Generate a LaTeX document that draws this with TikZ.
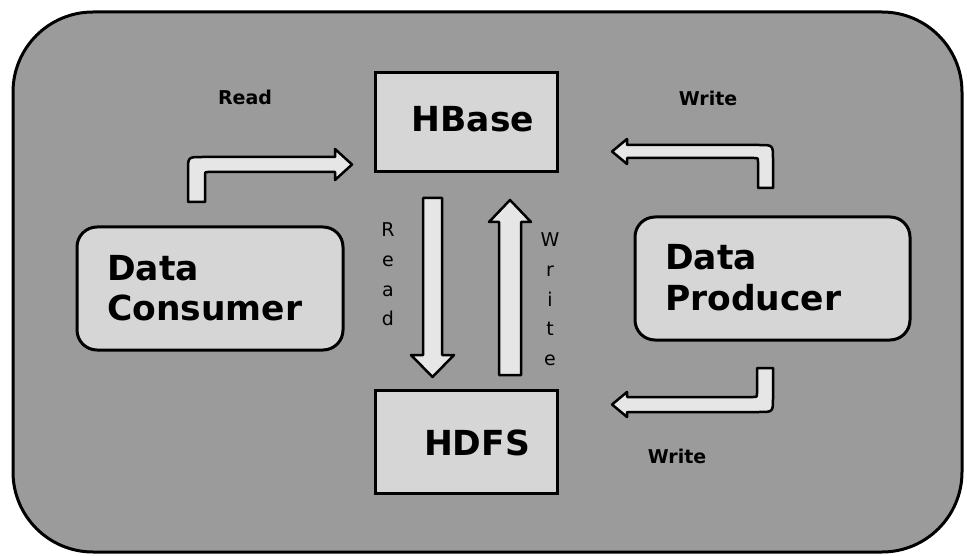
\documentclass[tikz,border=0pt]{standalone}
\usepackage{fontspec}
\setmainfont{DejaVu Sans}
\definecolor{bgray}{RGB}{155,155,155}
\definecolor{boxgray}{RGB}{214,214,214}
\definecolor{arrgray}{RGB}{230,230,230}
\begin{document}
\begin{tikzpicture}[x=1pt,y=-1pt,
  outer/.style={draw=black,line width=3pt,fill=bgray,rounded corners=80pt},
  sqbox/.style={draw=black,line width=3pt,fill=boxgray,inner sep=0pt},
  rbox/.style={draw=black,line width=3pt,fill=boxgray,rounded corners=20pt,inner sep=0pt},
  blk/.style={draw=black,line width=2.5pt,fill=arrgray,line join=round},
  big/.style={font=\bfseries\fontsize{34.5}{40}\selectfont,inner sep=0pt},
  small/.style={font=\bfseries\fontsize{19}{22}\selectfont,inner sep=0pt},
  vlet/.style={font=\fontsize{19}{22}\selectfont,inner sep=0pt,anchor=base}]
\useasboundingbox (0,0) rectangle (967,556);
\fill[white] (0,0) rectangle (967,556);
\draw[outer] (13,12) rectangle (962,552);
% boxes
\node[sqbox,minimum width=182pt,minimum height=99pt] (hbase) at (466,122.5) {};
\node[sqbox,minimum width=182pt,minimum height=103pt] (hdfs) at (466,441.5) {};
\node[rbox,minimum width=266pt,minimum height=123pt] (cons) at (210,288.5) {};
\node[rbox,minimum width=275pt,minimum height=123pt] (prod) at (772.5,278.5) {};
% texts
\node[big,anchor=base] (thbase) at (473,132) {HBase};
\node[big,anchor=base] (thdfs) at (477,455) {HDFS};
\node[big,anchor=base west] (tcons1) at (107,280) {Data};
\node[big,anchor=base west] (tcons2) at (107,320) {Consumer};
\node[big,anchor=base west] (tprod1) at (665,270) {Data};
\node[big,anchor=base west] (tprod2) at (665,310) {Producer};
\node[small] (lread) at (245,97) {Read};
\node[small] (lwrite1) at (708,98) {Write};
\node[small] (lwrite2) at (677,456) {Write};
% vertical letters
\node[vlet] (r1) at (388,237) {R};
\node[vlet] (r2) at (388,266.5) {e};
\node[vlet] (r3) at (388,296) {a};
\node[vlet] (r4) at (388,325.5) {d};
\node[vlet] (w1) at (550,247) {W};
\node[vlet] (w2) at (550,276.5) {r};
\node[vlet] (w3) at (550,306) {i};
\node[vlet] (w4) at (550,335.5) {t};
\node[vlet] (w5) at (550,365) {e};
% vertical block arrows
\draw[blk] (423,198) -- (442,198) -- (442,355) -- (454,355) -- (432.5,377) -- (411,355) -- (423,355) -- cycle;
\draw[blk] (499,375) -- (499,222) -- (489,222) -- (510,200) -- (531,222) -- (521,222) -- (521,375) -- cycle;
% bent block arrows
\draw[blk] (188,202) -- (188,171) .. controls (188,157) .. (202,157) -- (335,157) -- (335,149)
  -- (352,164.5) -- (335,180) -- (335,172) -- (208,172) .. controls (205,172) .. (205,175) -- (205,202) -- cycle;
\draw[blk] (758,188) -- (758,162) .. controls (758,158) .. (754,158) -- (627,158) -- (627,164)
  -- (612,151.5) -- (627,139) -- (627,145) -- (759,145) .. controls (773,145) .. (773,159) -- (773,188) -- cycle;
\draw[blk] (757,368) -- (757,393) .. controls (757,397) .. (753,397) -- (627,397) -- (627,392)
  -- (612,404.5) -- (627,417) -- (627,412) -- (759,412) .. controls (773,412) .. (773,398) -- (773,368) -- cycle;
\end{tikzpicture}
\end{document}
